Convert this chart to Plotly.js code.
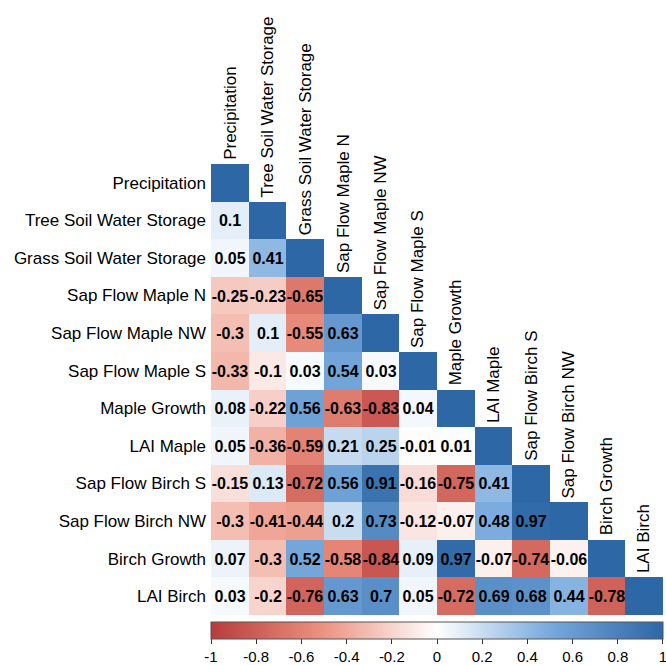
<!DOCTYPE html>
<html>
<head>
<meta charset="utf-8">
<script src="https://cdn.plot.ly/plotly-3.0.1.min.js"></script>
<style>
html,body{margin:0;padding:0;background:#fff;}
#chart{width:666px;height:665px;}
</style>
</head>
<body>
<div id="chart"></div>
<script>
const variables = [
  "Precipitation",
  "Tree Soil Water Storage",
  "Grass Soil Water Storage",
  "Sap Flow Maple N",
  "Sap Flow Maple NW",
  "Sap Flow Maple S",
  "Maple Growth",
  "LAI Maple",
  "Sap Flow Birch S",
  "Sap Flow Birch NW",
  "Birch Growth",
  "LAI Birch"
];

// lower-triangle correlations, row by row (excluding diagonal)
const lowerRows = [
  [],
  [0.1],
  [0.05, 0.41],
  [-0.25, -0.23, -0.65],
  [-0.3, 0.1, -0.55, 0.63],
  [-0.33, -0.1, 0.03, 0.54, 0.03],
  [0.08, -0.22, 0.56, -0.63, -0.83, 0.04],
  [0.05, -0.36, -0.59, 0.21, 0.25, -0.01, 0.01],
  [-0.15, 0.13, -0.72, 0.56, 0.91, -0.16, -0.75, 0.41],
  [-0.3, -0.41, -0.44, 0.2, 0.73, -0.12, -0.07, 0.48, 0.97],
  [0.07, -0.3, 0.52, -0.58, -0.84, 0.09, 0.97, -0.07, -0.74, -0.06],
  [0.03, -0.2, -0.76, 0.63, 0.7, 0.05, -0.72, 0.69, 0.68, 0.44, -0.78]
];

const colorbarTicks = [-1, -0.8, -0.6, -0.4, -0.2, 0, 0.2, 0.4, 0.6, 0.8, 1];
const colorbarTickText = ["-1", "-0.8", "-0.6", "-0.4", "-0.2", "0", "0.2", "0.4", "0.6", "0.8", "1"];

const n = variables.length;
const idx = variables.map((_, i) => i);
const z = [], txt = [];
for (let r = 0; r < n; r++) {
  const zr = [], tr = [];
  for (let c = 0; c < n; c++) {
    if (c < r) { zr.push(lowerRows[r][c]); tr.push(String(lowerRows[r][c])); }
    else if (c === r) { zr.push(1); tr.push(""); }
    else { zr.push(null); tr.push(""); }
  }
  z.push(zr); txt.push(tr);
}

// keep edge ticks just inside the colorbar range so they are drawn
const cbTickVals = colorbarTicks.map(v => v === 1 ? 0.9999 : (v === -1 ? -0.9999 : v));

const FONT = "Liberation Sans, Arial, sans-serif";

const trace = {
  type: "heatmap",
  x: idx, y: idx, z: z,
  text: txt,
  texttemplate: "%{text}",
  textfont: {family: FONT, size: 16, color: "#000", weight: "bold"},
  zmin: -1, zmax: 1,
  colorscale: [
    [0, "#B83B3B"],
    [0.25, "#EC9381"],
    [0.5, "#FFFFFF"],
    [0.75, "#77A9DC"],
    [1, "#2D67A6"]
  ],
  hoverongaps: false,
  colorbar: {
    orientation: "h",
    x: 0.5, xanchor: "center", xref: "paper",
    y: 0.0647, yanchor: "top", yref: "container",
    len: 1, lenmode: "fraction",
    thickness: 17,
    xpad: 0, ypad: 0,
    outlinewidth: 1, outlinecolor: "#555",
    tickmode: "array",
    tickvals: cbTickVals,
    ticktext: colorbarTickText,
    ticklabeloverflow: "allow",
    ticks: "outside", ticklen: 5, tickcolor: "#333", tickwidth: 1,
    tickfont: {family: FONT, size: 15, color: "#000"}
  }
};

const annotations = variables.map((v, i) => ({
  x: i, y: i - 0.5, xref: "x", yref: "y",
  text: v, showarrow: false,
  textangle: -90,
  xanchor: "center", yanchor: "bottom",
  yshift: 2,
  font: {family: FONT, size: 17, color: "#000"}
}));

const layout = {
  width: 666, height: 665,
  margin: {l: 211, r: 3, t: 164, b: 50},
  paper_bgcolor: "#fff", plot_bgcolor: "#fff",
  showlegend: false,
  xaxis: {
    range: [-0.5, n - 0.5], showgrid: false, zeroline: false,
    showticklabels: false, ticks: "", showline: false, fixedrange: true
  },
  yaxis: {
    range: [n - 0.5, -0.5], showgrid: false, zeroline: false,
    tickmode: "array", tickvals: idx, ticktext: variables,
    ticks: "", showline: false, ticklabelstandoff: 4,
    tickfont: {family: FONT, size: 17, color: "#000"}, fixedrange: true
  },
  annotations: annotations
};

Plotly.newPlot("chart", [trace], layout, {displayModeBar: false, staticPlot: true});
</script>
</body>
</html>
